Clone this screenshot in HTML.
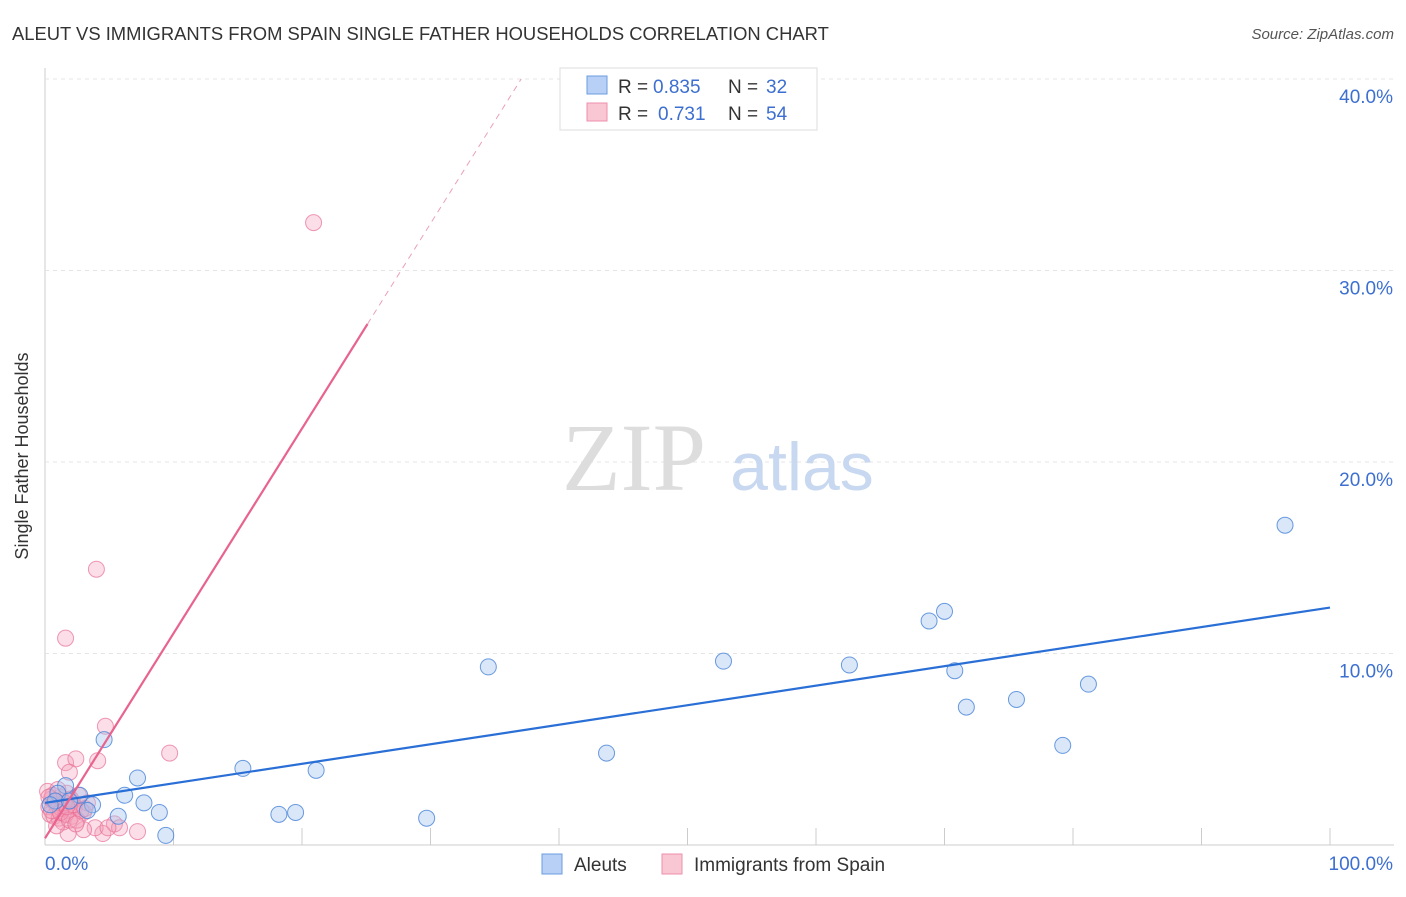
<!DOCTYPE html>
<html><head><meta charset="utf-8"><style>
body{margin:0;background:#fff;font-family:"Liberation Sans",sans-serif}
svg text{font-family:"Liberation Sans",sans-serif}
</style></head><body>
<svg width="1406" height="892">
<text x="12" y="40" font-size="18.4" fill="#333">ALEUT VS IMMIGRANTS FROM SPAIN SINGLE FATHER HOUSEHOLDS CORRELATION CHART</text>
<text x="1394" y="39" font-size="15" fill="#555" text-anchor="end" font-style="italic">Source: ZipAtlas.com</text>
<g id="grid"></g>
<text x="634" y="490" font-size="96" fill="#ddd" text-anchor="middle" style="font-family:'Liberation Serif',serif">ZIP</text>
<text x="802" y="490" font-size="68" fill="#c8d8f0" text-anchor="middle">atlas</text>
<text x="28" y="456" font-size="18" fill="#333" text-anchor="middle" transform="rotate(-90 28 456)">Single Father Households</text>
<g id="pts"></g>
<g id="lines"></g>
<g>
<rect x="560" y="68" width="257" height="62" fill="#fff" stroke="#ddd"/>
<rect x="587" y="76" width="20" height="18" fill="#b8d0f5" stroke="#6a9be0"/>
<rect x="587" y="103" width="20" height="18" fill="#f9c6d4" stroke="#ee8fab"/>
<text x="618" y="93" font-size="19" fill="#333">R =</text>
<text x="653" y="93" font-size="19" fill="#3c6fd0">0.835</text>
<text x="728" y="93" font-size="19" fill="#333">N =</text>
<text x="766" y="93" font-size="19" fill="#3c6fd0">32</text>
<text x="618" y="120" font-size="19" fill="#333">R =</text>
<text x="658" y="120" font-size="19" fill="#3c6fd0">0.731</text>
<text x="728" y="120" font-size="19" fill="#333">N =</text>
<text x="766" y="120" font-size="19" fill="#3c6fd0">54</text>
</g>
<g>
<rect x="542" y="854" width="20" height="20" fill="#b8d0f5" stroke="#6a9be0"/>
<text x="574" y="871" font-size="19" fill="#333">Aleuts</text>
<rect x="662" y="854" width="20" height="20" fill="#f9c6d4" stroke="#ee8fab"/>
<text x="694" y="871" font-size="19" fill="#333">Immigrants from Spain</text>
</g>
</svg>
<script>
const blueX=[96.5,70.0,68.8,52.8,62.6,34.5,70.8,81.2,75.6,71.7,79.2,43.7,4.6,15.4,21.1,7.2,6.2,7.7,1.6,3.7,8.9,18.2,19.5,29.7,5.7,9.4,2.7,1.0,0.8,1.9,3.3,0.4];
const blueY=[16.7,12.2,11.7,9.6,9.4,9.3,9.1,8.4,7.6,7.2,5.2,4.8,5.5,4.0,3.9,3.5,2.6,2.2,3.1,2.1,1.7,1.6,1.7,1.4,1.5,0.5,2.6,2.7,2.3,2.3,1.8,2.1];
const pinkX=[20.9,4.0,1.6,4.7,9.7,4.1,1.6,2.4,1.9,7.2,5.4,4.5,5.8,3.9,4.9,3.0,1.8,0.3,0.5,0.8,1.0,1.2,1.5,1.8,2.0,2.3,2.6,3.0,3.3,0.4,0.7,1.1,1.4,1.7,2.1,2.5,0.2,0.6,0.9,1.3,1.6,2.0,2.8,0.5,1.0,1.5,2.2,3.1,0.8,1.2,1.9,2.4,0.3,1.7];
const pinkY=[32.5,14.4,10.8,6.2,4.8,4.4,4.3,4.5,3.8,0.7,1.1,0.6,0.9,0.9,0.9,0.8,0.6,2.0,2.4,2.2,1.9,2.5,2.1,1.8,2.3,2.0,2.6,1.7,2.2,1.6,1.5,1.4,1.2,2.7,1.5,1.3,2.8,2.6,1.0,1.9,1.6,2.4,1.8,1.8,2.9,2.2,2.1,1.9,2.3,1.7,1.3,1.1,2.5,2.0];
const yTicks=[10,20,30,40];
const blueLine=[2.2,12.4];
const pinkLine=[0.35,1.07];
const X=v=>45+v*12.85, Y=v=>845-v*19.15;
const ns="http://www.w3.org/2000/svg";
function mk(t,a,p){const e=document.createElementNS(ns,t);for(const k in a)e.setAttribute(k,a[k]);p.appendChild(e);return e;}
const g=document.getElementById('grid');
mk('line',{x1:45,y1:68,x2:45,y2:845,stroke:'#ccc'},g);
mk('line',{x1:45,y1:845,x2:1394,y2:845,stroke:'#ccc'},g);
for(const t of yTicks){
 const l=mk('line',{x1:45,y1:Y(t),x2:1394,y2:Y(t),stroke:'#e4e4e4','stroke-dasharray':'4,4'},g);
 
 
 const tx=mk('text',{x:1393,y:Y(t)+24,'font-size':19,fill:'#3c6fd0','text-anchor':'end'},g);tx.textContent=t.toFixed(1)+'%';
 
 
}
for(let i=1;i<=10;i++){const l=mk('line',{x1:X(i*10),y1:828,x2:X(i*10),y2:845,stroke:'#ccc'},g);
 
 }
let t0=mk('text',{x:45,y:870,'font-size':19,fill:'#3c6fd0'},g);t0.textContent='0.0%';


let t1=mk('text',{x:1393,y:870,'font-size':19,fill:'#3c6fd0','text-anchor':'end'},g);t1.textContent='100.0%';


const p=document.getElementById('pts');
pinkX.forEach((x,i)=>{const c=mk('circle',{cx:X(x),cy:Y(pinkY[i]),r:8,fill:'rgba(244,160,185,0.35)',stroke:'rgba(232,110,150,0.7)','stroke-width':1},p);
 
 });
blueX.forEach((x,i)=>{const c=mk('circle',{cx:X(x),cy:Y(blueY[i]),r:8,fill:'rgba(160,195,240,0.4)',stroke:'rgba(70,130,215,0.8)','stroke-width':1},p);
 
 });
const L=document.getElementById('lines');
let bl=mk('line',{x1:X(0),y1:Y(blueLine[0]),x2:X(100),y2:Y(blueLine[1]),stroke:'#2a6fd6','stroke-width':2.2},L);


const pe=25.1, pd=(40-pinkLine[0])/pinkLine[1];
let pl=mk('line',{x1:X(0),y1:Y(pinkLine[0]),x2:X(pe),y2:Y(pinkLine[0]+pinkLine[1]*pe),stroke:'#e8638e','stroke-width':2.2},L);


let pdl=mk('line',{x1:X(pe),y1:Y(pinkLine[0]+pinkLine[1]*pe),x2:X(pd),y2:Y(40),stroke:'#eaa0b8','stroke-width':1,'stroke-dasharray':'6,5'},L);


</script>
</body></html>
